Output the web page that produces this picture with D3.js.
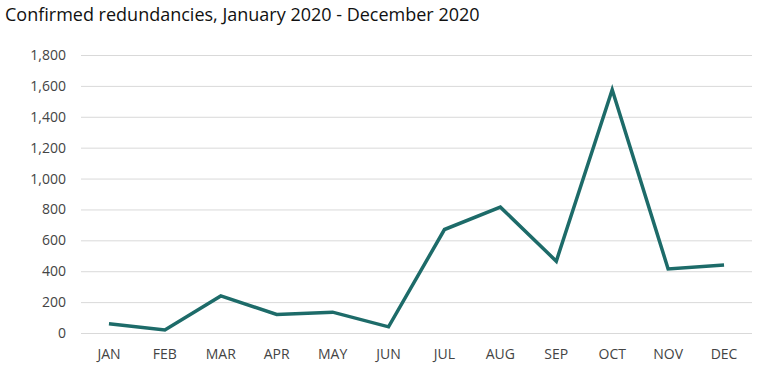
<!DOCTYPE html>
<html>
<head>
<meta charset="utf-8">
<script src="https://cdn.jsdelivr.net/npm/d3@7"></script>
<style>
  html, body { margin: 0; padding: 0; background: #fff; overflow: hidden; }
  svg { display: block; }
  text { font-family: "Open Sans", sans-serif; }
</style>
</head>
<body>
<svg id="chart"></svg>
<script>
// データ
const months = ["JAN", "FEB", "MAR", "APR", "MAY", "JUN", "JUL", "AUG", "SEP", "OCT", "NOV", "DEC"];
const redundancies = [60, 20, 240, 120, 135, 40, 670, 815, 465, 1575, 415, 440];
const yTicks = [0, 200, 400, 600, 800, 1000, 1200, 1400, 1600, 1800];

const width = 783, height = 382;
const margin = { top: 55, right: 31, bottom: 49, left: 81 };
const innerWidth = width - margin.left - margin.right;
const innerHeight = height - margin.top - margin.bottom;

const svg = d3.select("#chart")
    .attr("width", width)
    .attr("height", height);

// タイトル
svg.append("text")
    .attr("x", 5)
    .attr("y", 21)
    .attr("font-size", "18px")
    .attr("fill", "#111")
    .text("Confirmed redundancies, January 2020 - December 2020");

const chart = svg.append("g")
    .attr("transform", `translate(${margin.left}, ${margin.top})`);

const xscale = d3.scaleBand().domain(months).range([0, innerWidth]);
const yscale = d3.scaleLinear().domain([0, 1800]).range([innerHeight, 0]);

// y軸（グリッド線付き）
const yaxis = d3.axisLeft(yscale)
    .tickValues(yTicks)
    .tickSize(-innerWidth)
    .tickPadding(15)
    .tickFormat(d3.format(","));

chart.append("g")
    .call(yaxis)
    .call(g => g.select(".domain").remove())
    .call(g => g.selectAll("line").attr("stroke", "#d9d9d9"))
    .call(g => g.selectAll("text")
        .attr("font-size", "14px")
        .attr("fill", "#444"));

// x軸
const xaxis = d3.axisBottom(xscale).tickSize(0).tickPadding(16);
chart.append("g")
    .attr("transform", `translate(0, ${innerHeight})`)
    .call(xaxis)
    .call(g => g.select(".domain").remove())
    .call(g => g.selectAll("text")
        .attr("font-size", "14px")
        .attr("fill", "#444"));

// 折れ線
const line = d3.line()
    .x((d, i) => xscale(months[i]) + xscale.bandwidth() / 2)
    .y(d => yscale(d));

chart.append("path")
    .datum(redundancies)
    .attr("d", line)
    .attr("fill", "none")
    .attr("stroke", "#1d6b69")
    .attr("stroke-width", 3.5)
    .attr("stroke-linejoin", "miter");
</script>
</body>
</html>
